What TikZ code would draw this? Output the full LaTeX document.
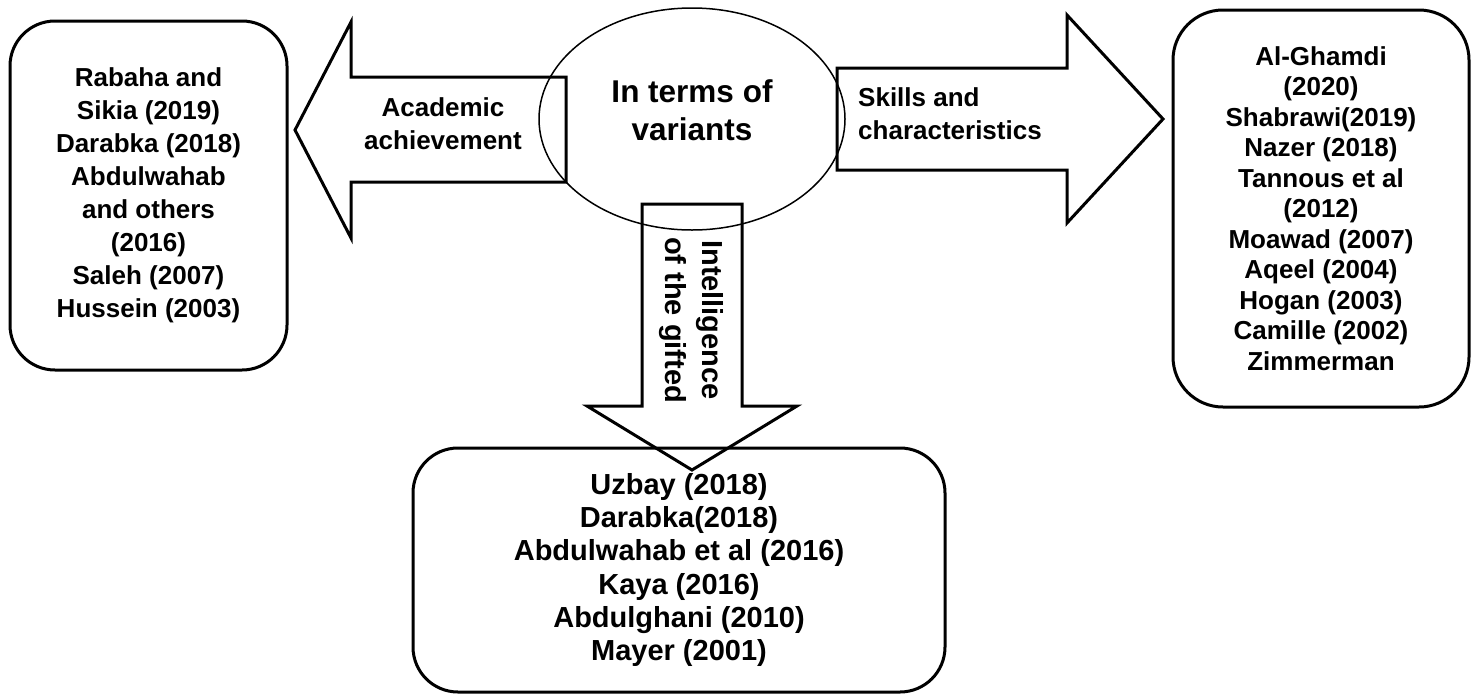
\documentclass[tikz,border=0pt]{standalone}
\usepackage{fontspec}
\setmainfont{Liberation Sans}
\usetikzlibrary{shapes.geometric, positioning}

\begin{document}
\begin{tikzpicture}[x=1pt, y=-1pt]
            \tikzstyle{refbox}=[draw, line width=3pt, rounded corners=45pt, align=center, inner sep=0pt]
            \tikzstyle{blockarrow}=[draw, line width=3pt, line join=miter]
            \tikzstyle{arrowtext}=[inner sep=0pt, font=\bfseries\fontsize{26}{33}\selectfont]
            \useasboundingbox (0,0) rectangle (1472,694);
            \node[draw, ellipse, line width=1.5pt, minimum width=306pt, minimum height=222pt, inner sep=0pt] (hub) at (692,119) {};
            \node[inner sep=0pt, align=center, font=\bfseries\fontsize{31.5}{38}\selectfont] (hubtext) at (692,110) {In terms of\\variants};
            \node[refbox, minimum width=277pt, minimum height=349pt, font=\bfseries\fontsize{26}{33}\selectfont] (achbox) at (148.5,195.5)
                {Rabaha and\\Sikia (2019)\\Darabka (2018)\\Abdulwahab\\and others\\(2016)\\Saleh (2007)\\Hussein (2003)};
            \node[refbox, rounded corners=50pt, minimum width=296pt, minimum height=397pt, font=\bfseries\fontsize{26}{30.5}\selectfont] (skillbox) at (1321,208.5)
                {Al-Ghamdi\\(2020)\\Shabrawi(2019)\\Nazer (2018)\\Tannous et al\\(2012)\\Moawad (2007)\\Aqeel (2004)\\Hogan (2003)\\Camille (2002)\\Zimmerman};
            \node[refbox, minimum width=532pt, minimum height=244pt, font=\bfseries\fontsize{29}{33.2}\selectfont] (iqbox) at (679,570)
                {Uzbay (2018)\\Darabka(2018)\\Abdulwahab et al (2016)\\Kaya (2016)\\Abdulghani (2010)\\Mayer (2001)};
            \draw[blockarrow] (566,77) -- (351,77) -- (351,22) -- (295,130) -- (351,238) -- (351,182) -- (566,182) -- cycle;
            \draw[blockarrow] (837,68) -- (1067,68) -- (1067,15) -- (1163,119) -- (1067,223) -- (1067,170) -- (837,170) -- cycle;
            \draw[blockarrow] (642,204) -- (642,406) -- (587,406) -- (692,470) -- (797,406) -- (742,406) -- (742,204) -- cycle;
            \node[arrowtext, align=center] (achtext) at (443,123.5) {Academic\\achievement};
            \node[arrowtext, align=left, anchor=west] (skilltext) at (858,114) {Skills and\\characteristics};
            \node[arrowtext, align=center, rotate=-90, font=\bfseries\fontsize{29}{37}\selectfont] (iqtext) at (691.5,320) {Intelligence\\of the gifted};
\end{tikzpicture}
\end{document}
